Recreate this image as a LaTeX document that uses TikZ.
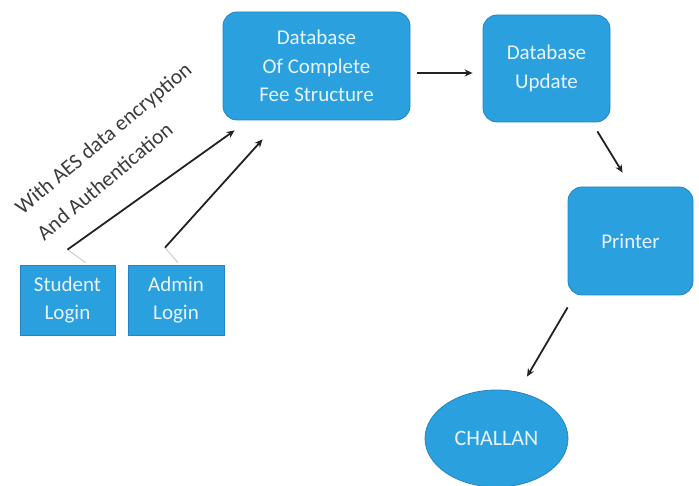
\documentclass[tikz,border=0pt]{standalone}
\usepackage{fontspec}
\setmainfont{Carlito}
\usetikzlibrary{arrows.meta,shapes.geometric}
\definecolor{boxblue}{RGB}{42,160,222}
\definecolor{boxedge}{RGB}{38,132,196}
\definecolor{boxtext}{RGB}{232,244,252}
\definecolor{arrowc}{RGB}{34,34,34}
\definecolor{labelc}{RGB}{60,60,60}
\definecolor{faintc}{RGB}{215,200,205}
\tikzset{
  rbox/.style={draw=boxedge, line width=0.8pt, fill=boxblue, rounded corners=14pt,
    text=boxtext, align=center, inner sep=0pt,
    font=\fontsize{21}{28.5}\selectfont},
  sbox/.style={draw=boxedge, line width=0.8pt, fill=boxblue, rectangle,
    text=boxtext, align=center, inner sep=0pt,
    font=\fontsize{21}{28.5}\selectfont},
  ebox/.style={draw=boxedge, line width=0.8pt, fill=boxblue, ellipse,
    text=boxtext, inner sep=0pt, font=\fontsize{22}{28}\selectfont},
  arr/.style={draw=arrowc, line width=1.8pt, -{Stealth[length=8pt,width=7pt]}},
  faint/.style={draw=faintc, line width=1pt},
  lbl/.style={text=labelc, align=left, inner sep=0pt,
    font=\fontsize{21.5}{34}\selectfont}
}
\begin{document}
\begin{tikzpicture}[x=1pt,y=-1pt]
\useasboundingbox (0,0) rectangle (699,486);
\node[rbox, minimum width=187pt, minimum height=108pt] (db) at (316.5,66) {Database\\Of Complete\\Fee Structure};
\node[rbox, minimum width=127pt, minimum height=107pt] (upd) at (546.5,68.5) {Database\\Update};
\node[rbox, minimum width=125pt, minimum height=108pt] (prn) at (630.5,241) {Printer};
\node[ebox, minimum width=143pt, minimum height=97pt] (ch) at (496.5,438.5) {CHALLAN};
\node[sbox, minimum width=95pt, minimum height=70pt] (stu) at (67.5,300) {Student\\Login};
\node[sbox, minimum width=96pt, minimum height=70pt] (adm) at (176,300) {Admin\\Login};

\coordinate (s1) at ([shift={(0,-15)}]stu.north);
\coordinate (a1) at ([shift={(-11,-17)}]adm.north);
\draw[faint] ([shift={(18,-2)}]stu.north) -- (s1);
\draw[faint] ([shift={(2,-2)}]adm.north) -- (a1);
\draw[arr] (s1) -- ([shift={(12,10)}]db.south west);
\draw[arr] (a1) -- ([shift={(40,19)}]db.south west);
\draw[arr] ([shift={(7,7)}]db.east) -- ([shift={(-10,4.5)}]upd.west);
\draw[arr] ([shift={(-13,9)}]upd.south east) -- ([shift={(55,-14)}]prn.north west);
\draw[arr] ([shift={(0,12)}]prn.south west) -- ([shift={(30.5,-13)}]ch.north);

\node[lbl, rotate=40] (lab) at (114,151) {With AES data encryption\\And Authentication};
\end{tikzpicture}
\end{document}
